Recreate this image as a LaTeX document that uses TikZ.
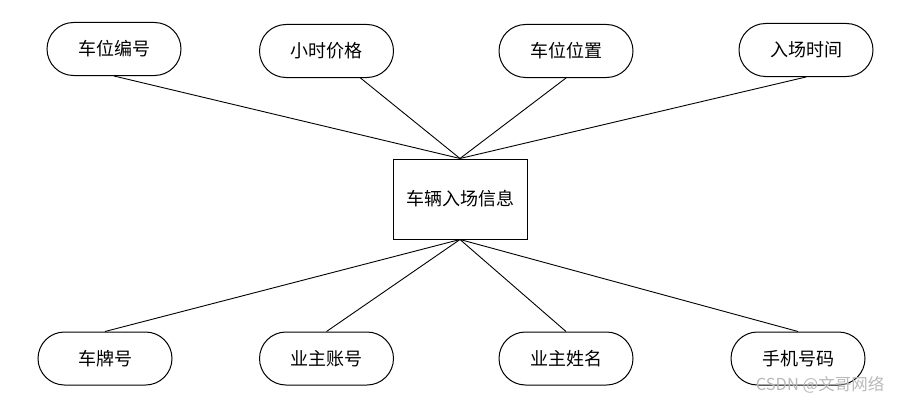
\documentclass[tikz,border=0pt]{standalone}
\usepackage{fontspec}
\newfontfamily\cjk{Noto Sans CJK SC}
\usetikzlibrary{positioning}

\begin{document}
\begin{tikzpicture}[x=1pt, y=-1pt,
  attr/.style={draw, line width=1pt, rounded corners=26.5pt, inner sep=0pt,
               minimum width=134pt, minimum height=53pt,
               font=\cjk\fontsize{18}{20}\selectfont},
  ent/.style={draw, line width=1pt, inner sep=0pt,
              minimum width=134pt, minimum height=80pt,
              font=\cjk\fontsize{18}{20}\selectfont},
  link/.style={line width=0.9pt},
  wmark/.style={text=gray!55, font=\cjk\fontsize{16.5}{18}\selectfont}]
  \useasboundingbox (0,0) rectangle (904,404);

  \node[ent] (car) at (460,199) {车辆入场信息};

  \node[attr] (bh) at (114,49) {车位编号};
  \node[attr] (jg) at (326.5,51) {小时价格};
  \node[attr] (wz) at (566,51) {车位位置};
  \node[attr] (rc) at (806,50) {入场时间};

  \node[attr] (cp) at (105,358.5) {车牌号};
  \node[attr] (zh) at (326.5,358.5) {业主账号};
  \node[attr] (xm) at (566,358.5) {业主姓名};
  \node[attr] (dh) at (798,358.5) {手机号码};

  \foreach \n in {bh,wz,rc} \draw[link] (\n.south) -- (car.north);
  \draw[link] ([xshift=34pt]jg.south) -- (car.north);
  \foreach \n in {cp,zh,xm,dh} \draw[link] (car.south) -- (\n.north);

  \node[wmark] (wm) at (820,385) {CSDN @文哥网络};
\end{tikzpicture}
\end{document}
